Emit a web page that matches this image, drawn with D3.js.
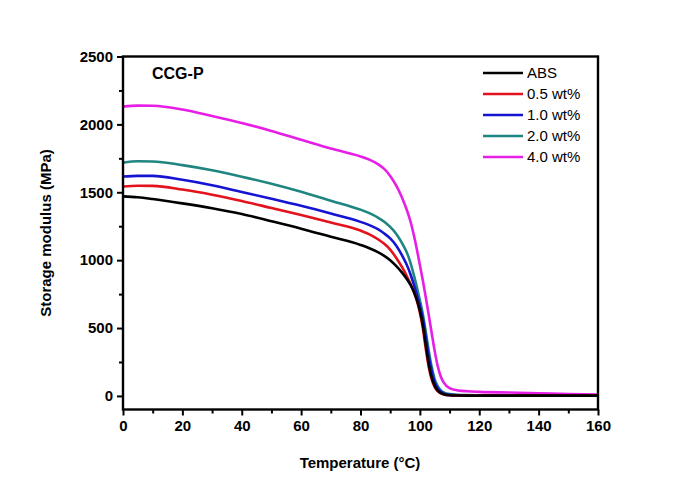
<!DOCTYPE html>
<html><head><meta charset="utf-8">
<script src="https://cdn.jsdelivr.net/npm/d3@7"></script>
<style>body{margin:0;background:#fff}svg{display:block}</style>
</head><body>
<svg id="c" width="694" height="491"></svg>
<script>
const seriesNames = ["ABS","0.5 wt%","1.0 wt%","2.0 wt%","4.0 wt%"];
const seriesColors = ["#000000","#e3121c","#1414d2","#1f8580","#e61ee6"];
const temps = [0,5,10,20,30,40,50,60,70,80,83,86,88,90,92,94,96,97,98,99,100,101,102,103,104,105,106,107,108,110,113,116,120,130,140,150,160];
const absVals  = [1470,1463,1450,1418,1382,1340,1287,1232,1172,1112,1088,1058,1032,1000,958,908,848,812,765,705,628,522,375,232,135,76,40,22,12,5,3,2,2,2,2,2,2];
const wt05Vals = [1543,1548,1547,1520,1482,1436,1384,1332,1277,1218,1190,1152,1120,1078,1018,948,865,818,765,700,615,498,345,212,120,65,35,19,11,5,3,2,2,2,2,2,2];
const wt10Vals = [1616,1621,1621,1592,1552,1502,1452,1400,1343,1282,1258,1226,1196,1160,1108,1035,945,885,818,745,665,568,432,292,180,100,56,32,19,9,5,4,3,3,3,3,3];
const wt20Vals = [1718,1728,1727,1700,1662,1615,1562,1503,1438,1372,1346,1312,1283,1245,1195,1125,1035,968,888,800,705,602,470,330,212,122,72,42,26,13,8,6,5,5,4,4,4];
const wt40Vals = [2131,2138,2137,2110,2062,2010,1952,1887,1822,1764,1740,1705,1672,1620,1550,1460,1345,1272,1182,1078,965,850,725,595,460,330,220,145,100,58,40,34,30,25,20,14,11];
const allSeries = [absVals, wt05Vals, wt10Vals, wt20Vals, wt40Vals];
const xTicks = [0,20,40,60,80,100,120,140,160];
const yTicks = [0,500,1000,1500,2000,2500];

const svg = d3.select("#c");
const x = d3.scaleLinear().domain([0,160]).range([123,598]);
const y = d3.scaleLinear().domain([-100,2500]).range([409.5,56.5]);
const font = "'Liberation Sans', Arial, sans-serif";

const line = d3.line().x((d,i)=>x(temps[i])).y(d=>y(d)).curve(d3.curveMonotoneX);
[4,3,2,1,0].forEach(k=>{
  svg.append("path").attr("d", line(allSeries[k])).attr("fill","none")
    .attr("stroke", seriesColors[k]).attr("stroke-width",2.6).attr("stroke-linejoin","round");
});

svg.append("rect").attr("x",x(0)).attr("y",y(2500)).attr("width",x(160)-x(0)).attr("height",y(-100)-y(2500))
  .attr("fill","none").attr("stroke","#000").attr("stroke-width",2.4);

const xa = svg.append("g").attr("transform",`translate(0,${y(-100)})`)
  .call(d3.axisBottom(x).tickValues(xTicks).tickSize(6).tickPadding(5).tickFormat(d3.format("d")));
const xm = svg.append("g").attr("transform",`translate(0,${y(-100)})`)
  .call(d3.axisBottom(x).tickValues(d3.range(10,160,20)).tickSize(4).tickFormat(""));
const ya = svg.append("g").attr("transform",`translate(${x(0)},0)`)
  .call(d3.axisLeft(y).tickValues(yTicks).tickSize(6).tickPadding(4).tickFormat(d3.format("d")));
const ym = svg.append("g").attr("transform",`translate(${x(0)},0)`)
  .call(d3.axisLeft(y).tickValues(d3.range(250,2500,500)).tickSize(4).tickFormat(""));
[xa,xm,ya,ym].forEach(g=>{
  g.select(".domain").remove();
  g.selectAll("line").attr("stroke","#000").attr("stroke-width",2);
  g.selectAll("text").attr("font-family",font).attr("font-weight","bold").attr("font-size",15).attr("fill","#000");
});

svg.append("text").attr("x",360).attr("y",468).attr("text-anchor","middle")
  .attr("font-family",font).attr("font-weight","bold").attr("font-size",15).text("Temperature (°C)");
svg.append("text").attr("transform","translate(51,233) rotate(-90)").attr("text-anchor","middle")
  .attr("font-family",font).attr("font-weight","bold").attr("font-size",15).text("Storage modulus (MPa)");

svg.append("text").attr("x",152).attr("y",79).attr("font-family",font).attr("font-weight","bold")
  .attr("font-size",16).text("CCG-P");

const lg = svg.append("g");
seriesNames.forEach((n,i)=>{
  const yy = 73 + i*21;
  lg.append("line").attr("x1",483).attr("x2",523).attr("y1",yy).attr("y2",yy)
    .attr("stroke",seriesColors[i]).attr("stroke-width",2.6);
  lg.append("text").attr("x",527).attr("y",yy+5).attr("font-family",font).attr("font-size",15)
    .attr("fill","#000").text(n);
});
</script>
</body></html>
